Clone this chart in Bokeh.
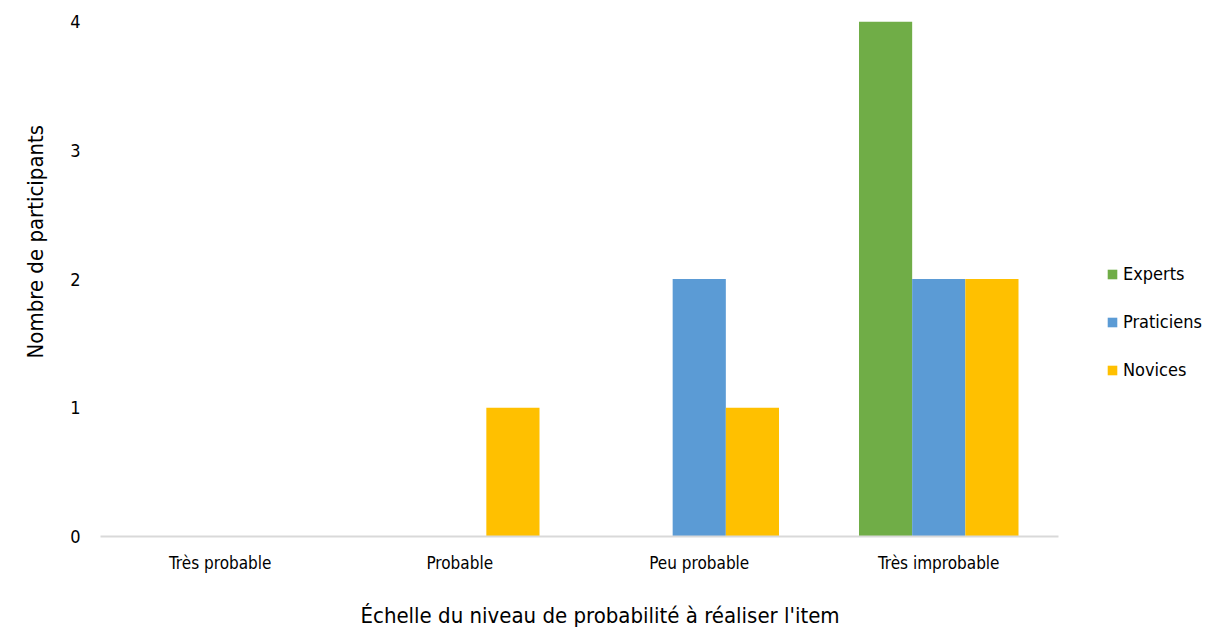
from bokeh.plotting import figure
from bokeh.models import FactorRange, Range1d, ColumnDataSource, Legend, LegendItem, FixedTicker, Title
from bokeh.transform import dodge
from bokeh.embed import file_html
from bokeh.resources import INLINE

categories = ["Très probable", "Probable", "Peu probable", "Très improbable"]
experts = [0, 0, 0, 4]
praticiens = [0, 0, 2, 2]
novices = [0, 1, 1, 2]
series_names = ["Experts", "Praticiens", "Novices"]
colors = ["#70AD47", "#5B9BD5", "#FFC000"]
y_ticks = [0, 1, 2, 3, 4]
x_title = "Échelle du niveau de probabilité à réaliser l'item"
y_title = "Nombre de participants"

FONT = "DejaVu Sans Condensed"

src = ColumnDataSource(dict(cat=categories, Experts=experts, Praticiens=praticiens, Novices=novices))

p = figure(x_range=FactorRange(*categories), y_range=Range1d(0, 4),
           frame_width=958, frame_height=515, output_backend="svg", toolbar_location=None,
           min_border_left=100, min_border_right=0, min_border_top=21, min_border_bottom=99)

w = 0.222
renderers = []
for i, (name, col) in enumerate(zip(series_names, colors)):
    r = p.vbar(x=dodge("cat", (i - 1) * w, range=p.x_range), top=name, width=w,
               source=src, fill_color=col, line_color=None)
    renderers.append(r)

legend = Legend(items=[LegendItem(label=n, renderers=[r]) for n, r in zip(series_names, renderers)],
                location=(48, 156), orientation="vertical")
legend.label_text_font = FONT
legend.label_text_font_size = "18px"
legend.label_text_color = "#000000"
legend.glyph_width = 12
legend.glyph_height = 12
legend.spacing = 27
legend.label_standoff = 5
legend.border_line_color = None
legend.background_fill_alpha = 0
legend.padding = 0
legend.margin = 0
p.add_layout(legend, "right")

p.xgrid.grid_line_color = None
p.ygrid.grid_line_color = None
p.outline_line_color = None

p.yaxis.ticker = FixedTicker(ticks=y_ticks)
p.yaxis.axis_line_color = None
p.yaxis.major_tick_line_color = None
p.yaxis.minor_tick_line_color = None
p.yaxis.major_label_text_font = FONT
p.yaxis.major_label_text_font_size = "18px"
p.yaxis.major_label_text_color = "#000000"
p.yaxis.major_label_standoff = 14

p.xaxis.axis_line_color = "#D9D9D9"
p.xaxis.axis_line_width = 2
p.xaxis.major_tick_line_color = None
p.xaxis.minor_tick_line_color = None
p.xaxis.major_label_text_font = FONT
p.xaxis.major_label_text_font_size = "17px"
p.xaxis.major_label_text_color = "#000000"
p.xaxis.major_label_standoff = 10

yt = Title(text=y_title, align="left", offset=178, standoff=40,
           text_font=FONT, text_font_size="22px", text_font_style="normal", text_color="#000000")
p.add_layout(yt, "left")
xt = Title(text=x_title, align="left", offset=260, standoff=50,
           text_font=FONT, text_font_size="22px", text_font_style="normal", text_color="#000000")
p.add_layout(xt, "below")

open("out.html", "w").write(file_html(p, INLINE))
